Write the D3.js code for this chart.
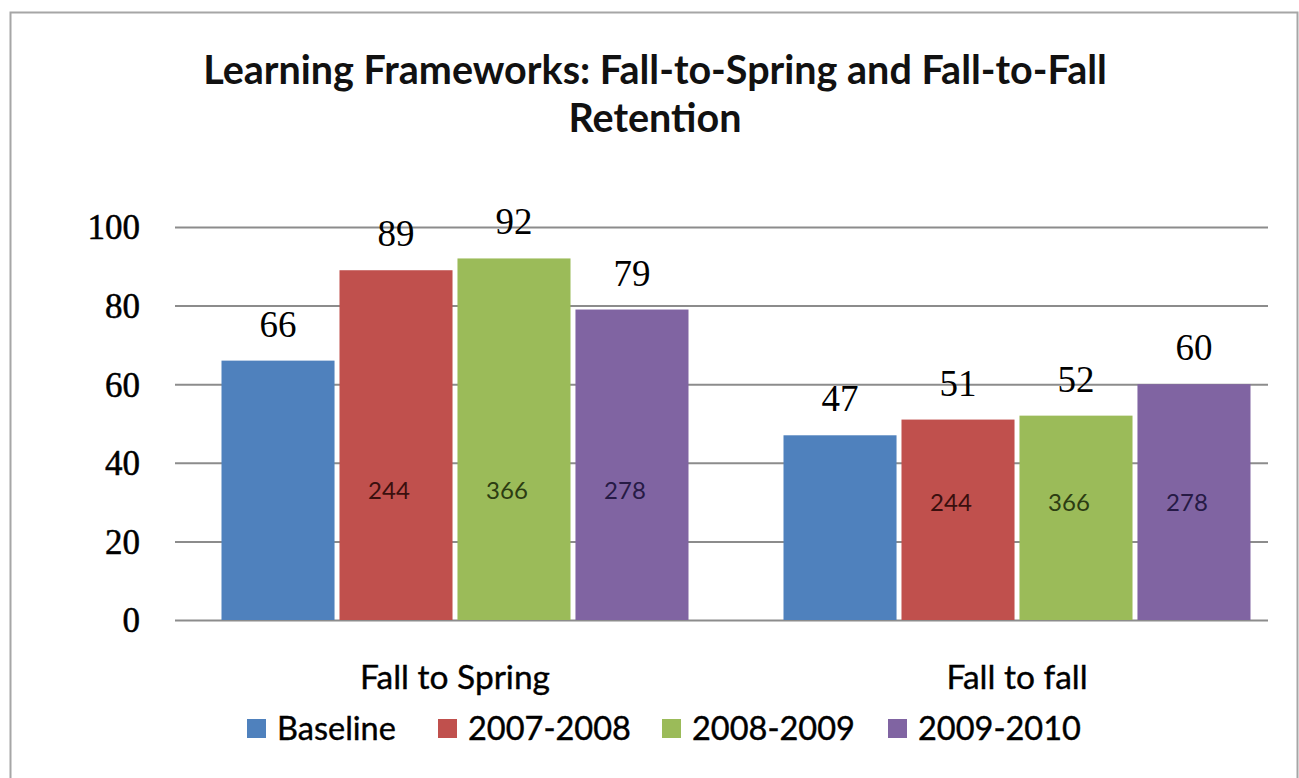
<!DOCTYPE html>
<html>
<head>
<meta charset="utf-8">
<script src="https://cdn.jsdelivr.net/npm/d3@7/dist/d3.min.js"></script>
<style>
  html, body { margin: 0; padding: 0; background: #fff; }
  svg { display: block; }
</style>
</head>
<body>
<svg id="chart" width="1299" height="778"></svg>
<script>
// ---- data ----
const categories = ["Fall to Spring", "Fall to fall"];
const seriesNames = ["Baseline", "2007-2008", "2008-2009", "2009-2010"];
const baselineValues = [66, 47];
const values2007 = [89, 51];
const values2008 = [92, 52];
const values2009 = [79, 60];
const sampleSizes = [null, 244, 366, 278]; // n labels shown inside bars per series
const yTicks = [0, 20, 40, 60, 80, 100];
const titleLines = ["Learning Frameworks: Fall-to-Spring and Fall-to-Fall", "Retention"];

// ---- styles ----
const colors = ["#4F81BD", "#C0504D", "#9BBB59", "#8064A2"];
const darkColors = ["#1f3550", "#3a0f0e", "#2c3c12", "#261a45"];
const sansFont = "Lato, 'Liberation Sans', sans-serif";
const serifFont = "'Liberation Serif', 'DejaVu Serif', serif";

const seriesValues = [baselineValues, values2007, values2008, values2009];
const rows = categories.map((c, ci) => ({
  category: c,
  bars: seriesNames.map((s, si) => ({ series: s, si, ci, value: seriesValues[si][ci], n: sampleSizes[si] }))
}));

const svg = d3.select("#chart");

// frame
svg.append("rect").attr("x", 10.5).attr("y", 12.5).attr("width", 1287).attr("height", 800)
  .attr("fill", "#fff").attr("stroke", "#a6a6a6").attr("stroke-width", 2);

// title
svg.append("g").selectAll("text").data(titleLines).join("text")
  .attr("x", 655).attr("y", (d, i) => 84 + i * 48)
  .attr("text-anchor", "middle")
  .attr("font-family", sansFont).attr("font-weight", "bold")
  .attr("font-size", 39.5).attr("fill", "#111")
  .text(d => d);

const plotLeft = 175, plotRight = 1268, plotTop = 227, plotBottom = 620;

const y = d3.scaleLinear().domain([0, 100]).range([plotBottom, plotTop]);
const x0 = d3.scaleBand().domain(categories).range([174, 1298]);
const x1 = d3.scaleBand().domain(seriesNames).range([47.5, 514.5]).paddingInner(0.042);

// y axis with gridlines
const yAxis = d3.axisLeft(y).tickValues(yTicks).tickSizeInner(-(plotRight - plotLeft)).tickSizeOuter(0).tickPadding(35);
const gy = svg.append("g").attr("transform", `translate(${plotLeft},0)`).call(yAxis);
gy.select(".domain").remove();
gy.selectAll(".tick line").attr("stroke", "#8c8c8c").attr("stroke-width", 2);
gy.selectAll(".tick text").attr("font-family", serifFont).attr("font-size", 35).attr("fill", "#000").attr("dy", "0.34em")
  .attr("stroke", "#000").attr("stroke-width", 0.5);

// x axis category labels
const xAxis = d3.axisBottom(x0).tickSize(0).tickPadding(45);
const gx = svg.append("g").attr("transform", `translate(0,${plotBottom})`).call(xAxis);
gx.select(".domain").remove();
gx.selectAll(".tick text").attr("font-family", sansFont).attr("font-size", 33.5).attr("fill", "#000")
  .attr("stroke", "#000").attr("stroke-width", 0.4);

// bars
const groups = svg.append("g").selectAll("g").data(rows).join("g")
  .attr("transform", d => `translate(${x0(d.category)},0)`);

groups.selectAll("rect").data(d => d.bars).join("rect")
  .attr("x", d => x1(d.series))
  .attr("y", d => y(d.value))
  .attr("width", x1.bandwidth())
  .attr("height", d => y(0) - y(d.value))
  .attr("fill", d => colors[d.si]);

// value labels
groups.selectAll("text.val").data(d => d.bars).join("text")
  .attr("class", "val")
  .attr("x", d => x1(d.series) + x1.bandwidth() / 2)
  .attr("y", d => y(d.value) - 24)
  .attr("text-anchor", "middle")
  .attr("font-family", serifFont).attr("font-size", 37).attr("fill", "#000")
  .text(d => d.value);

// sample size labels inside bars
const nLevel = [33, 30];
groups.selectAll("text.n").data(d => d.bars.filter(b => b.n != null)).join("text")
  .attr("class", "n")
  .attr("x", d => x1(d.series) + x1.bandwidth() / 2 - 7)
  .attr("y", d => y(nLevel[d.ci]))
  .attr("dy", "0.35em")
  .attr("text-anchor", "middle")
  .attr("font-family", sansFont).attr("font-size", 24).attr("fill", d => darkColors[d.si])
  .text(d => d.n);

// legend
const legendX = [247, 438, 662, 888];
const legend = svg.append("g").selectAll("g").data(seriesNames).join("g")
  .attr("transform", (d, i) => `translate(${legendX[i]},719)`);
legend.append("rect").attr("width", 19).attr("height", 19).attr("fill", (d, i) => colors[i]);
legend.append("text").attr("x", 30).attr("y", 21)
  .attr("font-family", sansFont).attr("font-size", 32.5).attr("fill", "#000")
  .attr("stroke", "#000").attr("stroke-width", 0.4)
  .text(d => d);
</script>
</body>
</html>
